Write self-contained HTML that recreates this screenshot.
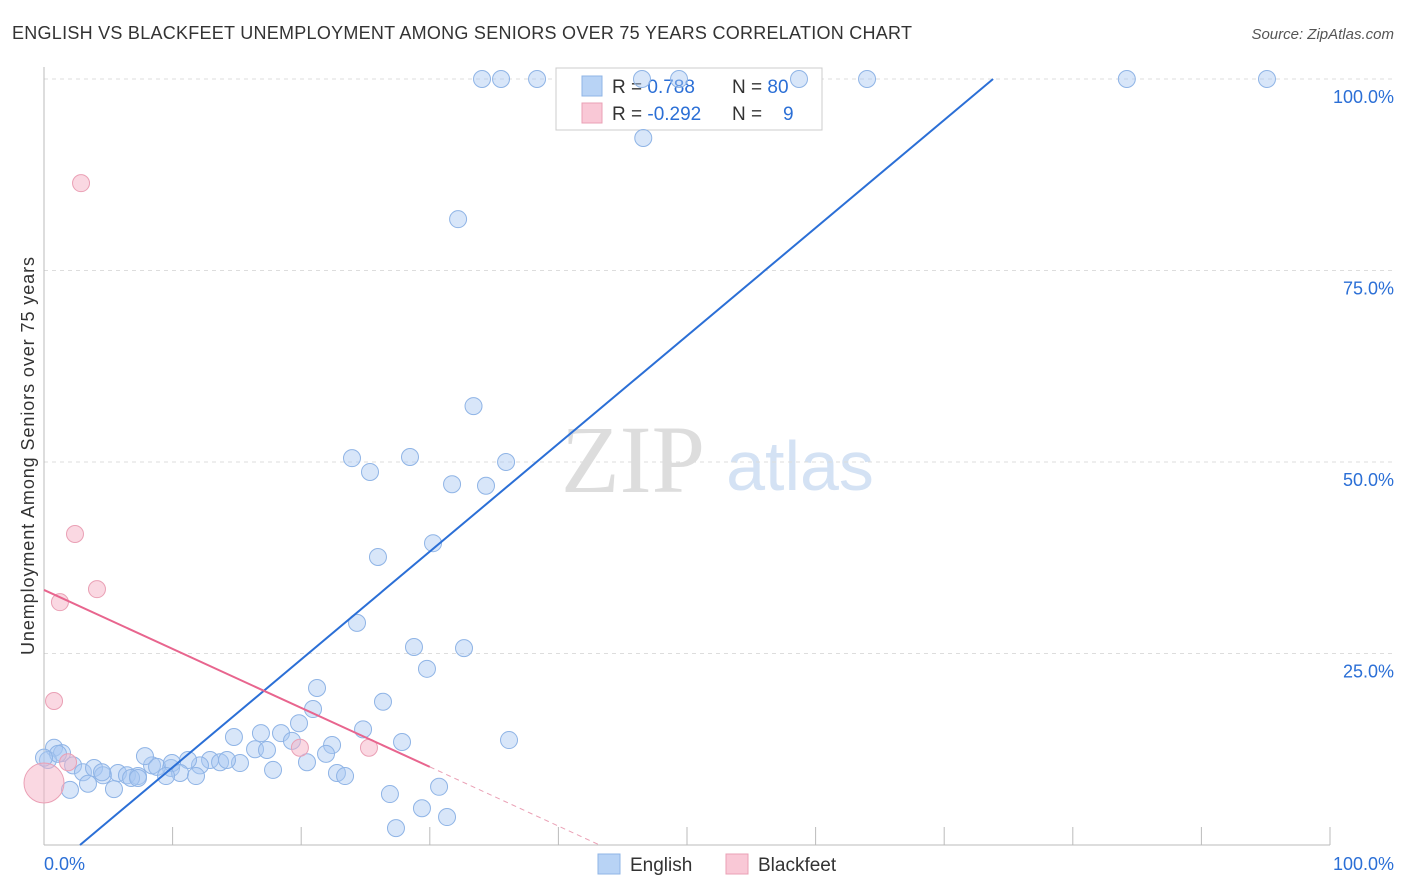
<!DOCTYPE html>
<html><head><meta charset="utf-8"><style>
body{margin:0;background:#fff;font-family:"Liberation Sans",sans-serif;}
svg{display:block}
</style></head><body>
<svg id="c" width="1406" height="892" xmlns="http://www.w3.org/2000/svg">
<text x="12" y="39" font-size="18" fill="#333" textLength="900">ENGLISH VS BLACKFEET UNEMPLOYMENT AMONG SENIORS OVER 75 YEARS CORRELATION CHART</text>
<text x="1394" y="39" font-size="15" fill="#555" font-style="italic" text-anchor="end">Source: ZipAtlas.com</text>
<text x="633" y="492" font-size="96" fill="#ddd" font-family="Liberation Serif,serif" text-anchor="middle">ZIP</text>
<text x="800" y="490" font-size="70" fill="#d4e2f4" text-anchor="middle">atlas</text>
<text transform="translate(34,456) rotate(-90)" font-size="18" fill="#333" text-anchor="middle" textLength="398">Unemployment Among Seniors over 75 years</text>
<g id="grid"></g>
<g>
<rect x="556" y="68" width="266" height="62" fill="#fff" stroke="#ccc"/>
<rect x="582" y="76" width="20" height="20" fill="#b8d3f5" stroke="#8fb4e6"/>
<rect x="582" y="103" width="20" height="20" fill="#f9c8d6" stroke="#eaa0b5"/>
<text x="612" y="93" font-size="19" fill="#333">R = <tspan fill="#2b6fd6"> 0.788</tspan><tspan x="732">N = </tspan><tspan fill="#2b6fd6">80</tspan></text>
<text x="612" y="120" font-size="19" fill="#333">R = <tspan fill="#2b6fd6">-0.292</tspan><tspan x="732">N = </tspan><tspan fill="#2b6fd6" x="783">9</tspan></text>
</g>
<g id="pts"></g><g id="lines"></g>
<g>
<rect x="598" y="854" width="22" height="20" fill="#b8d3f5" stroke="#8fb4e6"/>
<text x="630" y="871" font-size="19" fill="#333">English</text>
<rect x="726" y="854" width="22" height="20" fill="#f9c8d6" stroke="#eaa0b5"/>
<text x="758" y="871" font-size="19" fill="#333">Blackfeet</text>
</g>
<text x="44" y="870" font-size="18" fill="#2b6fd6">0.0%</text>
<text x="1394" y="870" font-size="18" fill="#2b6fd6" text-anchor="end">100.0%</text>
</svg>
<script>
const yTicks=[100,75,50,25];
const yTickLabels=["100.0%","75.0%","50.0%","25.0%"];
const englishX=[34.06,35.54,38.34,46.5,49.38,58.71,64.0,84.2,95.1,46.6,32.2,33.4,23.95,28.46,25.35,35.93,31.73,34.37,25.97,30.25,24.34,28.77,32.66,29.78,21.23,26.36,20.92,19.83,24.81,14.77,16.87,18.43,19.28,22.4,27.84,36.16,16.41,17.34,12.91,13.69,15.24,14.23,12.13,11.2,9.88,8.4,7.85,8.79,9.95,10.58,11.82,17.81,20.45,21.93,22.78,23.41,9.49,0.78,1.4,2.26,3.03,3.89,4.59,5.75,6.45,7.31,6.77,4.51,2.02,3.42,5.44,26.9,30.72,29.39,31.34,27.37,0.31,1.09,0,7.31];
const englishY=[100,100,100,100,100,100,100,100,100,92.3,81.7,57.3,50.5,50.65,48.7,50.0,47.1,46.9,37.6,39.4,29.0,25.85,25.7,23.0,20.5,18.7,17.75,15.9,15.1,14.1,14.6,14.6,13.6,13.05,13.45,13.7,12.5,12.4,11.1,10.8,10.7,11.1,10.4,11.1,10.05,10.4,11.6,10.2,10.7,9.4,9.0,9.8,10.8,11.9,9.4,9.0,9.0,12.7,12.0,10.4,9.5,10.05,9.1,9.4,9.1,9.0,8.75,9.5,7.2,8.0,7.3,6.65,7.6,4.8,3.65,2.2,11.1,11.9,11.4,8.75];
const blackX=[2.88,2.41,4.12,1.24,0.78,1.87,19.9,25.27,0];
const blackY=[86.4,40.6,33.4,31.7,18.8,10.8,12.7,12.7,8.1];
const blueLine=[[2.8,0],[73.8,100]];
const pinkLine=[[0,33.3],[30,10.2]];
const pinkDash=[[30,10.2],[43.2,0]];
const NS="http://www.w3.org/2000/svg";
const X=v=>44+v*12.86, Y=v=>845-v*7.66;
function mk(tag,at,par){const e=document.createElementNS(NS,tag);for(const k in at)e.setAttribute(k,at[k]);document.getElementById(par).appendChild(e);return e;}
yTicks.forEach((t,i)=>{
 let l=mk('line',{x1:44,x2:1394,y1:Y(t),y2:Y(t),stroke:'#ddd','stroke-dasharray':'4,4'},'grid');
 
 
 let tx=mk('text',{x:1394,y:Y(t)+24,'font-size':18,fill:'#2b6fd6','text-anchor':'end'},'grid');tx.textContent=yTickLabels[i];
 
 
});
let ax=mk('line',{x1:44,x2:1330,y1:845,y2:845,stroke:'#bbb'},'grid');


let ay=mk('line',{x1:44,x2:44,y1:67,y2:845,stroke:'#bbb'},'grid');


for(let i=0;i<=10;i++){let t=mk('line',{x1:X(i*10),x2:X(i*10),y1:827,y2:845,stroke:'#bbb'},'grid');
 
 }
englishX.forEach((v,i)=>{let c=mk('circle',{cx:X(v),cy:Y(englishY[i]),r:8.5,fill:'rgba(168,200,242,0.45)',stroke:'#8fb4e6','stroke-width':1},'pts');
 
 });
blackX.forEach((v,i)=>{let c=mk('circle',{cx:X(v),cy:Y(blackY[i]),r:i==8?20:8.5,fill:'rgba(246,178,198,0.5)',stroke:'#eaa0b5','stroke-width':1},'pts');
 
 });
let b=mk('line',{x1:X(blueLine[0][0]),y1:Y(blueLine[0][1]),x2:X(blueLine[1][0]),y2:Y(blueLine[1][1]),stroke:'#2b6fd6','stroke-width':2},'lines');


let p=mk('line',{x1:X(pinkLine[0][0]),y1:Y(pinkLine[0][1]),x2:X(pinkLine[1][0]),y2:Y(pinkLine[1][1]),stroke:'#e8658e','stroke-width':2},'lines');


let pd=mk('line',{x1:X(pinkDash[0][0]),y1:Y(pinkDash[0][1]),x2:X(pinkDash[1][0]),y2:Y(pinkDash[1][1]),stroke:'#eaa0b5','stroke-width':1,'stroke-dasharray':'5,4'},'lines');


</script>
</body></html>
